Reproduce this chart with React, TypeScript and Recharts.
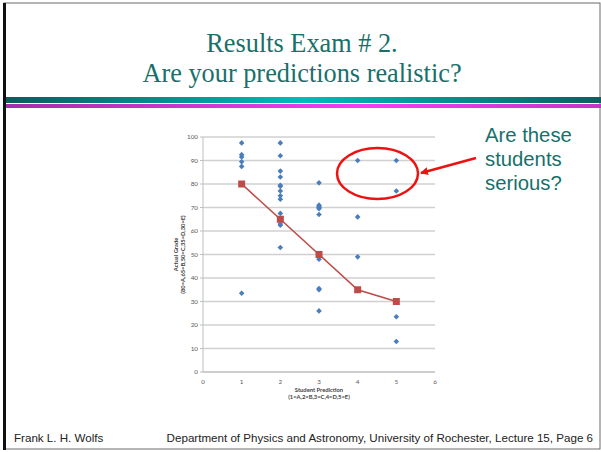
import { ScatterChart, Scatter, XAxis, YAxis, CartesianGrid } from "recharts";

// predicted grade on x (1=A ... 5=E), actual exam score on y
const PREDICTION_LEVELS = [1, 2, 3, 4, 5];
const SCORES_PRED_A = [97.5, 92.5, 91.5, 89.5, 87.5, 33.5];
const SCORES_PRED_B = [97.5, 92, 85.5, 83, 79.5, 79, 77, 75, 73.5, 67.5, 63, 62.5, 53];
const SCORES_PRED_C = [80.5, 71, 70.5, 70, 69.5, 67, 48, 35.5, 35, 26];
const SCORES_PRED_D = [90, 66, 49];
const SCORES_PRED_E = [90, 77, 23.5, 13];
const GRADE_CUTOFFS = [80, 65, 50, 35, 30];

const X_TICKS = [0, 1, 2, 3, 4, 5, 6];
const Y_TICKS = [0, 10, 20, 30, 40, 50, 60, 70, 80, 90, 100];

const scoreGroups = [SCORES_PRED_A, SCORES_PRED_B, SCORES_PRED_C, SCORES_PRED_D, SCORES_PRED_E];
const students = scoreGroups.flatMap((scores, i) =>
  scores.map((s) => ({ x: PREDICTION_LEVELS[i], y: s }))
);
const cutoffs = PREDICTION_LEVELS.map((p, i) => ({ x: p, y: GRADE_CUTOFFS[i] }));

const TEAL = "#17706a";
const CHART_FONT = "Lato, 'Liberation Sans', sans-serif";

const Diamond = (props: any) => {
  const { cx, cy } = props;
  const r = 2.8;
  return (
    <polygon
      points={`${cx},${cy - r} ${cx + r},${cy} ${cx},${cy + r} ${cx - r},${cy}`}
      fill="#4a7ebb"
    />
  );
};

const Square = (props: any) => {
  const { cx, cy } = props;
  return <rect x={cx - 3.5} y={cy - 3.5} width={7} height={7} fill="#be4b48" />;
};

const XTitle = (props: any) => {
  const { x, y, width } = props.viewBox;
  const cx = x + width / 2;
  return (
    <g fontFamily={CHART_FONT} fontSize={5.8} fontWeight="bold" fill="#404040" textAnchor="middle">
      <text x={cx} y={y + 20}>Student Prediction</text>
      <text x={cx} y={y + 27}>(1=A,2=B,3=C,4=D,5=E)</text>
    </g>
  );
};

const YTitle = (props: any) => {
  const { x, y, height } = props.viewBox;
  const cy = y + height / 2;
  return (
    <g fontFamily={CHART_FONT} fontSize={5.8} fontWeight="bold" fill="#404040" textAnchor="middle">
      <text x={x + 18} y={cy} transform={`rotate(-90, ${x + 18}, ${cy})`}>Actual Grade</text>
      <text x={x + 25} y={cy} transform={`rotate(-90, ${x + 25}, ${cy})`}>
        (80=A,65=B,50=C,35=D,30=E)
      </text>
    </g>
  );
};

export default function App() {
  return (
    <div style={{ position: "absolute", left: 0, top: 0, width: 601, height: 452, background: "#fff", overflow: "hidden" }}>
      <svg width={601} height={452} style={{ position: "absolute", left: 0, top: 0 }}>
        <defs>
          <linearGradient id="tealBar" x1="0" x2="1" y1="0" y2="0">
            <stop offset="0" stopColor="#0b5c5c" />
            <stop offset="0.5" stopColor="#00bcbc" />
            <stop offset="1" stopColor="#0b6060" />
          </linearGradient>
          <linearGradient id="pinkBar" x1="0" x2="1" y1="0" y2="0">
            <stop offset="0" stopColor="#a52ea8" />
            <stop offset="0.6" stopColor="#f43ef4" />
            <stop offset="1" stopColor="#c634c6" />
          </linearGradient>
        </defs>
        <rect x={4} y={3} width={596} height={446} fill="none" stroke="#6a6a6a" strokeWidth={1} />
        <rect x={3} y={3} width={3} height={447} fill="#111" />
        <text x={302} y={52} textAnchor="middle" fontFamily="'Liberation Serif', serif" fontSize={26.3} fill={TEAL}>
          Results Exam # 2.
        </text>
        <text x={302} y={82} textAnchor="middle" fontFamily="'Liberation Serif', serif" fontSize={26.3} fill={TEAL}>
          Are your predictions realistic?
        </text>
        <rect x={6} y={97} width={595} height={6} fill="url(#tealBar)" />
        <rect x={6} y={104} width={595} height={4} fill="url(#pinkBar)" />
        <g fontFamily="'Liberation Sans', Arial, sans-serif" fontSize={20.3} fill={TEAL}>
          <text x={485} y={142}>Are these</text>
          <text x={485} y={166}>students</text>
          <text x={485} y={190}>serious?</text>
        </g>
        <g fontFamily="'Liberation Sans', Arial, sans-serif" fontSize={11.6} fill="#222">
          <text x={14} y={442}>Frank L. H. Wolfs</text>
          <text x={593} y={442} textAnchor="end">
            Department of Physics and Astronomy, University of Rochester, Lecture 15, Page 6
          </text>
        </g>
      </svg>

      <div style={{ position: "absolute", left: 160, top: 127 }}>
        <ScatterChart width={285} height={275} margin={{ top: 10, right: 10, bottom: 0, left: 0 }}>
          <CartesianGrid vertical={false} stroke="#d0d0d0" strokeWidth={1.3} />
          <XAxis
            type="number"
            dataKey="x"
            domain={[0, 6]}
            ticks={X_TICKS}
            height={30}
            axisLine={{ stroke: "#bfbfbf" }}
            tickLine={false}
            tick={{ fontSize: 6.3, fill: "#595959", fontFamily: CHART_FONT }}
            tickMargin={2}
            label={<XTitle />}
          />
          <YAxis
            type="number"
            dataKey="y"
            domain={[0, 100]}
            ticks={Y_TICKS}
            width={43}
            axisLine={{ stroke: "#bfbfbf" }}
            tickLine={{ stroke: "#bfbfbf" }}
            tickSize={3}
            tick={{ fontSize: 6.3, fill: "#595959", fontFamily: CHART_FONT }}
            label={<YTitle />}
          />
          <Scatter data={students} shape={<Diamond />} isAnimationActive={false} />
          <Scatter
            data={cutoffs}
            shape={<Square />}
            line={{ stroke: "#be4b48", strokeWidth: 1.6 }}
            lineType="joint"
            isAnimationActive={false}
          />
        </ScatterChart>
      </div>

      <svg width={601} height={452} style={{ position: "absolute", left: 0, top: 0, pointerEvents: "none" }}>
        <defs>
          <marker id="arrowHead" markerWidth="8" markerHeight="8" refX="7" refY="4" orient="auto" markerUnits="userSpaceOnUse">
            <path d="M0,0 L8,4 L0,8 Z" fill="#ee1111" />
          </marker>
        </defs>
        <ellipse cx={377.5} cy={173.5} rx={40.5} ry={25.5} fill="none" stroke="#ee1111" strokeWidth={2.5} />
        <line x1={476} y1={158} x2={421} y2={173} stroke="#ee1111" strokeWidth={2.5} markerEnd="url(#arrowHead)" />
      </svg>
    </div>
  );
}
